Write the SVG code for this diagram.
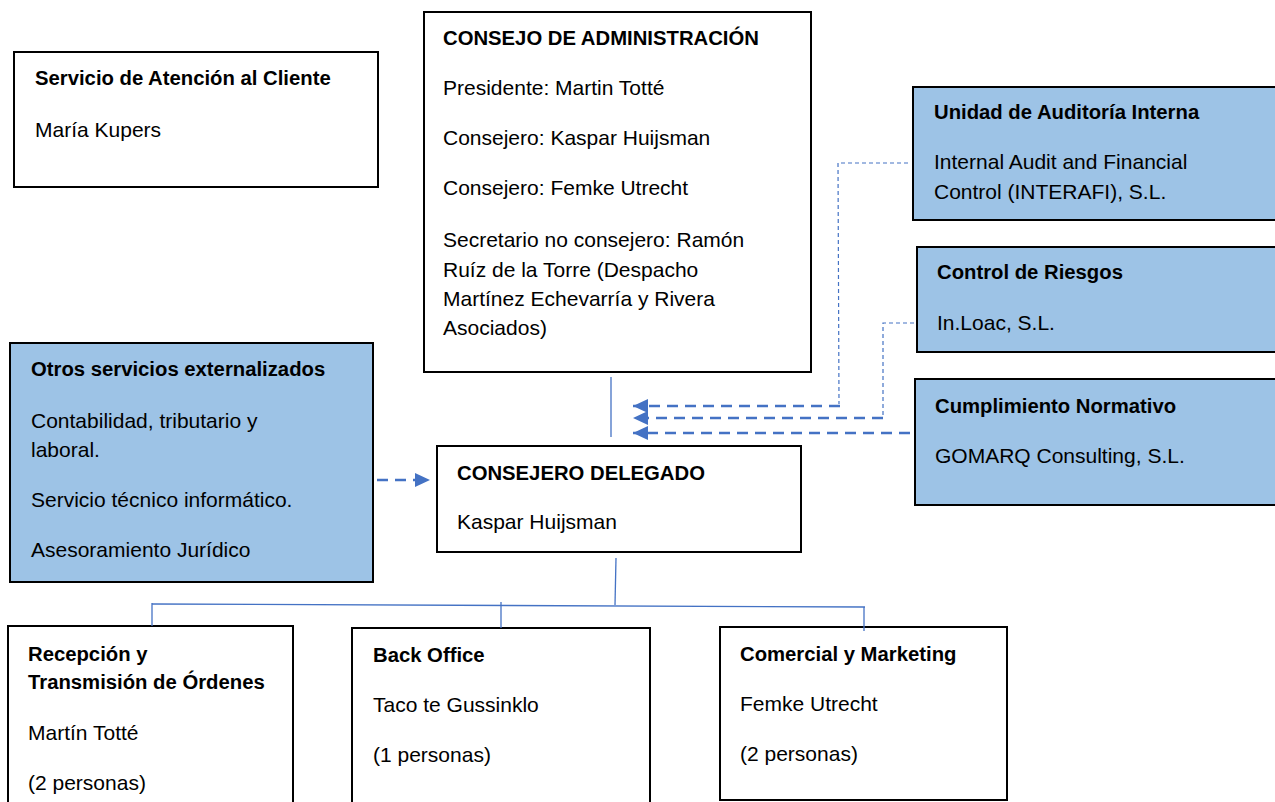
<svg xmlns="http://www.w3.org/2000/svg" width="1275" height="802" viewBox="0 0 1275 802">
<style>
.box{fill:#fff;stroke:#000;stroke-width:2}
.blue{fill:#9DC3E6;stroke:#000;stroke-width:2}
text{font-family:"Liberation Sans",Arial,sans-serif;font-size:21px;fill:#000}
.b{font-weight:bold;font-size:20.3px}
.ln{fill:none;stroke:#4472C4;stroke-width:1.3}
.thin{fill:none;stroke:#4472C4;stroke-width:1.2;stroke-dasharray:4 3}
.thick{fill:none;stroke:#4472C4;stroke-width:2.5;stroke-dasharray:11 7}
</style>
<defs>
<marker id="arr" markerUnits="userSpaceOnUse" markerWidth="16" markerHeight="14" refX="15" refY="7" orient="auto">
<path d="M0,0 L15,7 L0,14 Z" fill="#4472C4"/>
</marker>
</defs>
<rect width="1275" height="802" fill="#fff"/>

<g id="sac">
<rect class="box" x="14" y="52" width="364" height="135"/>
<text class="b" x="35" y="85">Servicio de Atención al Cliente</text>
<text x="35" y="137">María Kupers</text>
</g>

<g id="consejo">
<rect class="box" x="424" y="12" width="387" height="360"/>
<text class="b" x="443" y="45">CONSEJO DE ADMINISTRACIÓN</text>
<text x="443" y="95">Presidente: Martin Totté</text>
<text x="443" y="145">Consejero: Kaspar Huijsman</text>
<text x="443" y="195">Consejero: Femke Utrecht</text>
<text x="443" y="247">Secretario no consejero: Ramón</text>
<text x="443" y="277">Ruíz de la Torre (Despacho</text>
<text x="443" y="306">Martínez Echevarría y Rivera</text>
<text x="443" y="335">Asociados)</text>
</g>

<g id="auditoria">
<rect class="blue" x="913" y="87" width="380" height="133"/>
<text class="b" x="934" y="119">Unidad de Auditoría Interna</text>
<text x="934" y="169">Internal Audit and Financial</text>
<text x="934" y="199">Control (INTERAFI), S.L.</text>
</g>

<g id="riesgos">
<rect class="blue" x="917" y="247" width="380" height="105"/>
<text class="b" x="937" y="279">Control de Riesgos</text>
<text x="937" y="330">In.Loac, S.L.</text>
</g>

<g id="cumplimiento">
<rect class="blue" x="915" y="379" width="380" height="126"/>
<text class="b" x="935" y="413">Cumplimiento Normativo</text>
<text x="935" y="463">GOMARQ Consulting, S.L.</text>
</g>

<g id="otros">
<rect class="blue" x="10" y="343" width="363" height="239"/>
<text class="b" x="31" y="376">Otros servicios externalizados</text>
<text x="31" y="428">Contabilidad, tributario y</text>
<text x="31" y="457">laboral.</text>
<text x="31" y="507">Servicio técnico informático.</text>
<text x="31" y="557">Asesoramiento Jurídico</text>
</g>

<g id="delegado">
<rect class="box" x="437" y="446" width="364" height="106"/>
<text class="b" x="457" y="480">CONSEJERO DELEGADO</text>
<text x="457" y="529">Kaspar Huijsman</text>
</g>

<g id="recepcion">
<rect class="box" x="8" y="626" width="285" height="190"/>
<text class="b" x="28" y="661">Recepción y</text>
<text class="b" x="28" y="689">Transmisión de Órdenes</text>
<text x="28" y="740">Martín Totté</text>
<text x="28" y="790">(2 personas)</text>
</g>

<g id="backoffice">
<rect class="box" x="352" y="628" width="298" height="190"/>
<text class="b" x="373" y="662">Back Office</text>
<text x="373" y="712">Taco te Gussinklo</text>
<text x="373" y="762">(1 personas)</text>
</g>

<g id="comercial">
<rect class="box" x="720" y="627" width="287" height="173"/>
<text class="b" x="740" y="661">Comercial y Marketing</text>
<text x="740" y="711">Femke Utrecht</text>
<text x="740" y="761">(2 personas)</text>
</g>

<g id="connectors">
<line class="ln" x1="611" y1="377" x2="611" y2="437"/>
<line class="ln" x1="616" y1="558" x2="615" y2="605"/>
<line class="ln" x1="152" y1="604" x2="865" y2="607"/>
<line class="ln" x1="152" y1="603" x2="152" y2="626"/>
<line class="ln" x1="501" y1="602" x2="501" y2="628"/>
<line class="ln" x1="864" y1="607" x2="864" y2="631"/>
<line class="thick" x1="377" y1="480" x2="430" y2="480" marker-end="url(#arr)" stroke-dasharray="10 9"/>
<polyline class="thin" points="908,163 838,163 839,404"/>
<line class="thick" x1="840" y1="406" x2="633" y2="406" marker-end="url(#arr)"/>
<polyline class="thin" points="914,323 883,323 883,417"/>
<line class="thick" x1="883" y1="418" x2="633" y2="418" marker-end="url(#arr)"/>
<line class="thick" x1="910" y1="433" x2="633" y2="433" marker-end="url(#arr)"/>
</g>
</svg>
